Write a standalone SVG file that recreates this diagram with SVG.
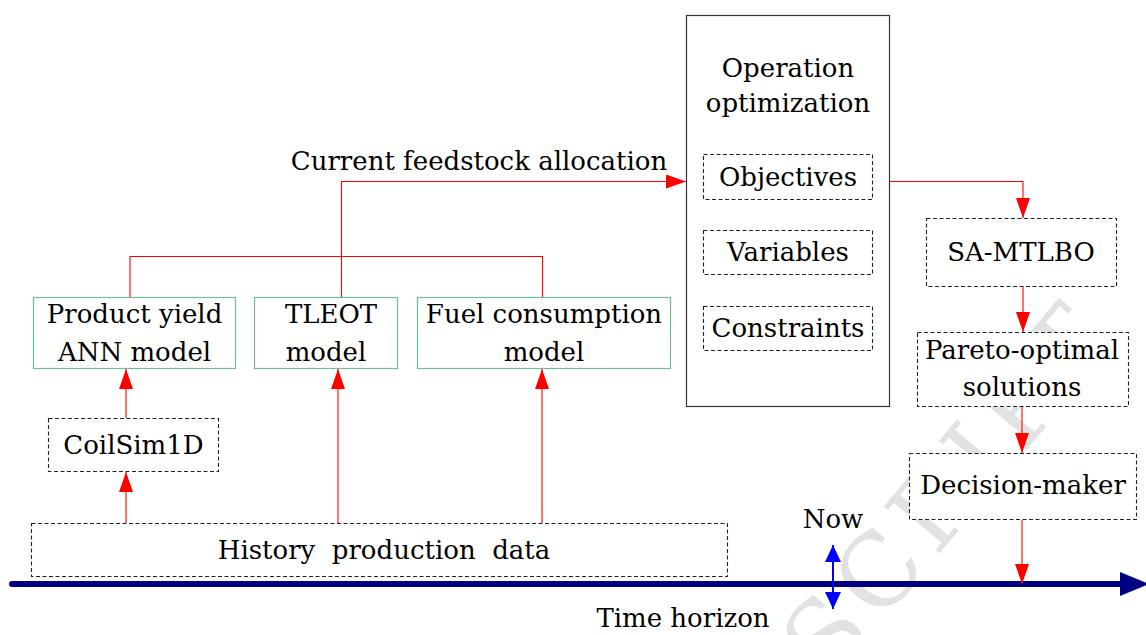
<svg xmlns="http://www.w3.org/2000/svg" width="1146" height="635" viewBox="0 0 1146 635" font-family="'DejaVu Serif', serif">
<defs>
<style>
text{font-size:26px;fill:#000;text-anchor:middle}
.wm{fill:#e2e2e2;font-size:100px;text-anchor:start;letter-spacing:10px}
.green{fill:#fff;stroke:#6fbf96;stroke-width:1.2}
.dash{fill:#fff;stroke:#222;stroke-width:1.1;stroke-dasharray:4 2.5}
.solid{fill:#fff;stroke:#333;stroke-width:1.2}
.red{fill:none;stroke:#ff0000;stroke-width:1.1}
.blue{fill:none;stroke:#0000ff;stroke-width:2}
</style>
<marker id="ah" viewBox="0 0 20 14" refX="20" refY="7" markerWidth="20" markerHeight="14" markerUnits="userSpaceOnUse" orient="auto">
<path d="M0,0 L20,7 L0,14 Z" fill="#ff0000"/>
</marker>
<marker id="bh" viewBox="0 0 17 16" refX="17" refY="8" markerWidth="17" markerHeight="16" markerUnits="userSpaceOnUse" orient="auto-start-reverse">
<path d="M0,0 L17,8 L0,16 Z" fill="#0000ff"/>
</marker>
</defs>
<rect width="1146" height="635" fill="#fff"/>
<text class="wm" transform="translate(830,684) rotate(-50)">SCRIPT</text>

<g id="time-axis">
<line x1="12" y1="584" x2="1122" y2="584" stroke="#000080" stroke-width="6" stroke-linecap="round"/>
<path d="M1120,572 L1149,584 L1120,596 Z" fill="#000080"/>
<text x="683" y="627">Time horizon</text>
</g>

<g id="now">
<text x="833" y="528">Now</text>
</g>

<g id="history">
<rect class="dash" x="31.5" y="523.5" width="696" height="53"/>
<text x="384" y="559" xml:space="preserve">History  production  data</text>
</g>

<g id="coilsim">
<rect class="dash" x="48.5" y="418.5" width="170" height="53"/>
<text x="133.5" y="454">CoilSim1D</text>
</g>

<g id="product-yield">
<rect class="green" x="33.5" y="297.5" width="202" height="71"/>
<text x="134.5" y="323">Product yield</text>
<text x="134.5" y="361">ANN model</text>
</g>

<g id="tleot">
<rect class="green" x="254.5" y="297.5" width="143" height="71"/>
<text x="331" y="323">TLEOT</text>
<text x="326" y="361">model</text>
</g>

<g id="fuel">
<rect class="green" x="417.5" y="297.5" width="253" height="71"/>
<text x="544" y="323">Fuel consumption</text>
<text x="544" y="361">model</text>
</g>

<g id="label-current">
<text x="479" y="170">Current feedstock allocation</text>
</g>

<g id="operation">
<rect class="solid" x="686.5" y="15.5" width="203" height="391"/>
<text x="788" y="77">Operation</text>
<text x="788" y="112">optimization</text>
<rect class="dash" x="703.5" y="154.5" width="169" height="45"/>
<text x="788" y="186">Objectives</text>
<rect class="dash" x="703.5" y="230.5" width="169" height="44"/>
<text x="788" y="261">Variables</text>
<rect class="dash" x="703.5" y="306.5" width="169" height="44"/>
<text x="788" y="337">Constraints</text>
</g>

<g id="sa-mtlbo">
<rect class="dash" x="926.5" y="218.5" width="190" height="68"/>
<text x="1021" y="261">SA-MTLBO</text>
</g>

<g id="pareto">
<rect class="dash" x="917.5" y="332.5" width="211" height="74"/>
<text x="1022" y="359">Pareto-optimal</text>
<text x="1022" y="396">solutions</text>
</g>

<g id="decision">
<rect class="dash" x="909.5" y="453.5" width="227" height="66"/>
<text x="1023" y="494">Decision-maker</text>
</g>

<g id="connectors">
<path class="red" d="M126,523 V472" marker-end="url(#ah)"/>
<path class="red" d="M126,418 V369" marker-end="url(#ah)"/>
<path class="red" d="M338,523 V369" marker-end="url(#ah)"/>
<path class="red" d="M542,523 V369" marker-end="url(#ah)"/>
<path class="red" d="M130,297 V256.5 H542.5 V297"/>
<path class="red" d="M341.5,297 V181.5 H686" marker-end="url(#ah)"/>
<path class="red" d="M890,181.5 H1023 V218" marker-end="url(#ah)"/>
<path class="red" d="M1023,287 V332" marker-end="url(#ah)"/>
<path class="red" d="M1022,407 V453" marker-end="url(#ah)"/>
<path class="red" d="M1022,520 V584" marker-end="url(#ah)"/>
<path class="blue" d="M833,545 V609" marker-start="url(#bh)" marker-end="url(#bh)"/>
</g>
</svg>
